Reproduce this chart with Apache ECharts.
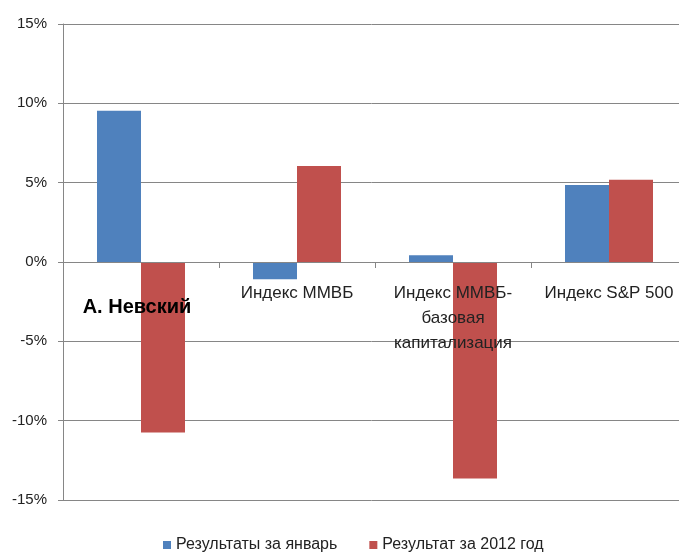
<!DOCTYPE html>
<html>
<head>
<meta charset="utf-8">
<script src="https://cdn.jsdelivr.net/npm/echarts@6/dist/echarts.min.js"></script>
<style>
html,body{margin:0;padding:0;background:#fff;}
#chart{width:679px;height:554px;}
</style>
</head>
<body>
<div id="chart"></div>
<script>
var categories = ['А. Невский', 'Индекс ММВБ', 'Индекс ММВБ-\nбазовая\nкапитализация', 'Индекс S&P 500'];
var seriesNames = ['Результаты за январь', 'Результат за 2012 год'];
var januaryValues = [0.0953, -0.0109, 0.0042, 0.0485];
var yearValues = [-0.1075, 0.0605, -0.1365, 0.0519];
var yTicks = [-0.15, -0.10, -0.05, 0, 0.05, 0.10, 0.15];

var FONT = '"Liberation Sans", Arial, sans-serif';
var chart = echarts.init(document.getElementById('chart'));
chart.setOption({
  backgroundColor: '#ffffff',
  animation: false,
  textStyle: { fontFamily: FONT },
  grid: { left: 63, right: -8, top: 24, bottom: 54, containLabel: false, outerBoundsMode: 'none' },
  legend: {
    top: 532,
    left: 158,
    itemWidth: 8,
    itemHeight: 8,
    itemGap: 32,
    icon: 'rect',
    textStyle: { fontFamily: FONT, fontSize: 16, color: '#222' },
    data: seriesNames
  },
  xAxis: {
    type: 'category',
    z: 10,
    data: categories,
    axisLine: { onZero: true, lineStyle: { color: '#868686', width: 1 } },
    axisTick: { show: true, length: 6, alignWithLabel: false, lineStyle: { color: '#868686' } },
    axisLabel: {
      interval: 0,
      margin: -219,
      fontFamily: FONT,
      fontSize: 17,
      lineHeight: 25,
      color: '#222',
      hideOverlap: false,
      formatter: function (v) {
        return v === categories[0] ? '{b|' + v + '}' : v;
      },
      rich: {
        b: { fontFamily: FONT, fontWeight: 'bold', fontSize: 20, color: '#000', padding: [28, 8, 0, 0] }
      }
    },
    splitLine: { show: false }
  },
  yAxis: {
    type: 'value',
    min: yTicks[0],
    max: yTicks[yTicks.length - 1],
    interval: 0.05,
    axisLine: { show: true, lineStyle: { color: '#868686', width: 1 } },
    axisTick: { show: true, length: 5, lineStyle: { color: '#868686' } },
    axisLabel: {
      margin: 16,
      fontFamily: FONT,
      fontSize: 15,
      color: '#222',
      formatter: function (v) { return Math.round(v * 100) + '%'; }
    },
    splitLine: { show: true, lineStyle: { color: '#868686', width: 1 } }
  },
  series: [
    {
      name: seriesNames[0],
      type: 'bar',
      data: januaryValues,
      barWidth: 44,
      barGap: '0%',
      itemStyle: { color: '#4F81BD' }
    },
    {
      name: seriesNames[1],
      type: 'bar',
      data: yearValues,
      barWidth: 44,
      barGap: '0%',
      itemStyle: { color: '#C0504D' }
    }
  ]
});
</script>
</body>
</html>
